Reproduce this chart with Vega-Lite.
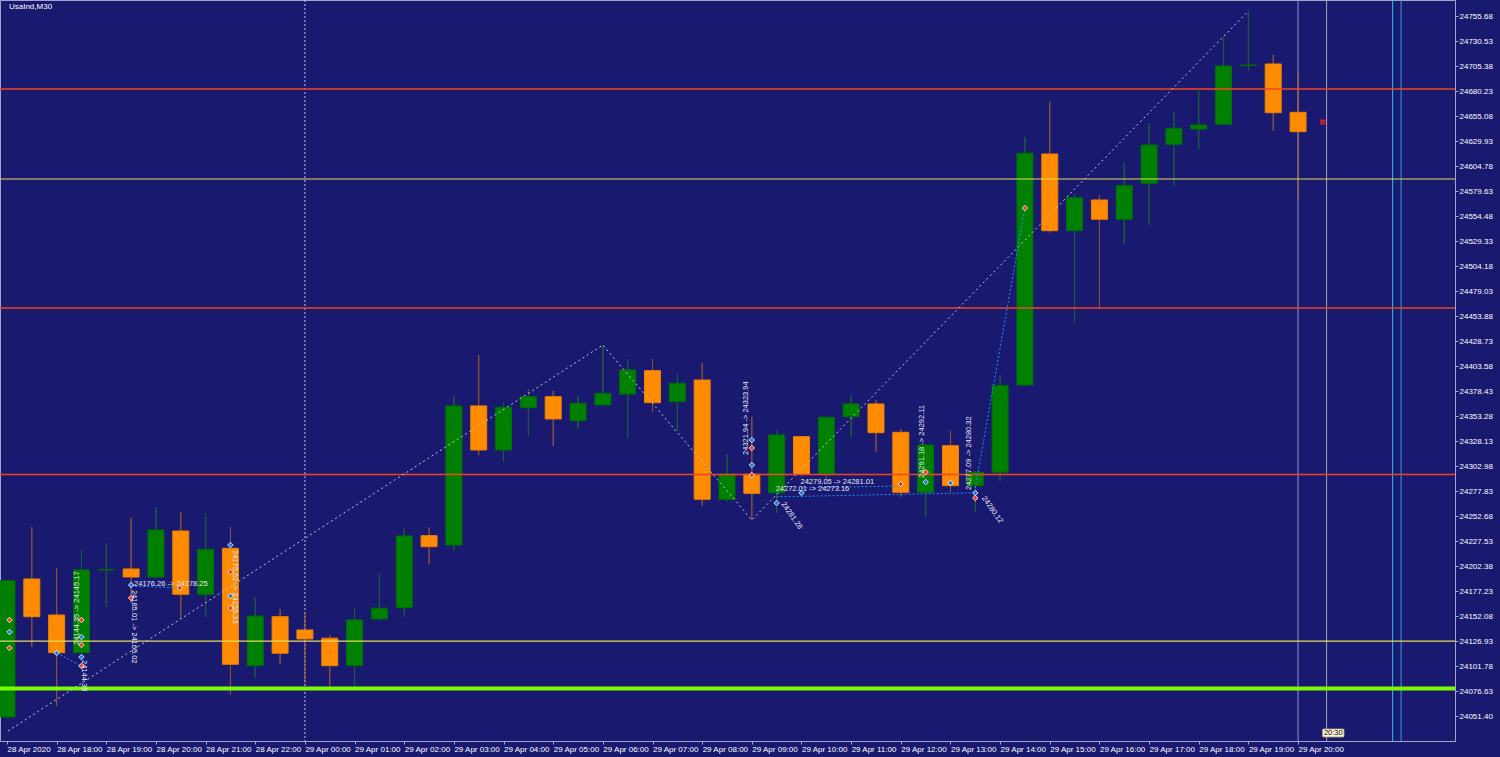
{
  "$schema": "https://vega.github.io/schema/vega-lite/v6.json",
  "width": 1455,
  "height": 741,
  "padding": {"left": 0, "top": 0, "right": 45, "bottom": 16},
  "autosize": {"type": "none"},
  "background": "#191970",
  "config": {
    "view": {"stroke": "#a4a4c8", "strokeWidth": 1},
    "text": {"font": "Liberation Sans"}
  },
  "datasets": {
    "candles": [
      {"i":0,"o":24050.5,"h":24188.3,"l":24049.5,"c":24187.6},
      {"i":1,"o":24189.3,"h":24241.6,"l":24120.9,"c":24151.4},
      {"i":2,"o":24153.1,"h":24200.4,"l":24061.6,"c":24115.2},
      {"i":3,"o":24115.2,"h":24218.5,"l":24114.9,"c":24198.4},
      {"i":4,"o":24198.4,"h":24225.5,"l":24161.2,"c":24198.9},
      {"i":5,"o":24199.4,"h":24250.7,"l":24165.2,"c":24191.3},
      {"i":6,"o":24191.3,"h":24261.8,"l":24190.3,"c":24238.6},
      {"i":7,"o":24237.6,"h":24256.7,"l":24150.4,"c":24173.9},
      {"i":8,"o":24173.9,"h":24255.7,"l":24151.4,"c":24219.2},
      {"i":9,"o":24220.2,"h":24241.6,"l":24072.6,"c":24103.5},
      {"i":10,"o":24102.1,"h":24170.5,"l":24090.0,"c":24152.1},
      {"i":11,"o":24151.4,"h":24159.1,"l":24103.8,"c":24114.6},
      {"i":12,"o":24138.0,"h":24156.4,"l":24084.7,"c":24129.0},
      {"i":13,"o":24129.7,"h":24133.0,"l":24079.7,"c":24102.1},
      {"i":14,"o":24102.1,"h":24159.1,"l":24081.0,"c":24148.1},
      {"i":15,"o":24149.1,"h":24195.1,"l":24147.1,"c":24159.9},
      {"i":16,"o":24160.5,"h":24240.9,"l":24151.4,"c":24232.6},
      {"i":17,"o":24232.9,"h":24241.3,"l":24204.4,"c":24221.8},
      {"i":18,"o":24223.5,"h":24372.7,"l":24217.8,"c":24363.4},
      {"i":19,"o":24363.4,"h":24414.7,"l":24314.1,"c":24319.1},
      {"i":20,"o":24319.1,"h":24366.7,"l":24307.3,"c":24362.1},
      {"i":21,"o":24361.7,"h":24380.2,"l":24332.5,"c":24372.7},
      {"i":22,"o":24372.7,"h":24378.5,"l":24323.1,"c":24350.3},
      {"i":23,"o":24348.6,"h":24373.4,"l":24340.2,"c":24366.1},
      {"i":24,"o":24364.4,"h":24424.7,"l":24363.9,"c":24376.1},
      {"i":25,"o":24375.4,"h":24410.6,"l":24331.5,"c":24399.6},
      {"i":26,"o":24398.9,"h":24410.6,"l":24357.6,"c":24366.7},
      {"i":27,"o":24367.7,"h":24395.6,"l":24338.5,"c":24386.2},
      {"i":28,"o":24389.5,"h":24406.3,"l":24263.1,"c":24269.5},
      {"i":29,"o":24269.5,"h":24314.8,"l":24267.1,"c":24294.7},
      {"i":30,"o":24294.7,"h":24352.6,"l":24248.7,"c":24275.5},
      {"i":31,"o":24276.1,"h":24338.5,"l":24255.7,"c":24334.2},
      {"i":32,"o":24332.5,"h":24333.2,"l":24292.2,"c":24294.7},
      {"i":33,"o":24294.7,"h":24352.3,"l":24288.9,"c":24352.0},
      {"i":34,"o":24352.6,"h":24374.4,"l":24331.5,"c":24365.4},
      {"i":35,"o":24365.4,"h":24369.4,"l":24317.4,"c":24336.5},
      {"i":36,"o":24336.9,"h":24340.2,"l":24272.1,"c":24276.5},
      {"i":37,"o":24276.5,"h":24325.1,"l":24252.0,"c":24324.1},
      {"i":38,"o":24323.4,"h":24338.5,"l":24276.5,"c":24283.2},
      {"i":39,"o":24283.2,"h":24298.0,"l":24257.0,"c":24296.7},
      {"i":40,"o":24296.7,"h":24394.2,"l":24287.9,"c":24383.8},
      {"i":41,"o":24384.5,"h":24633.7,"l":24383.5,"c":24617.6},
      {"i":42,"o":24616.9,"h":24669.5,"l":24537.7,"c":24539.7},
      {"i":43,"o":24539.7,"h":24576.3,"l":24447.6,"c":24572.9},
      {"i":44,"o":24570.6,"h":24575.6,"l":24461.6,"c":24551.2},
      {"i":45,"o":24551.2,"h":24608.5,"l":24526.0,"c":24585.0},
      {"i":46,"o":24587.4,"h":24647.8,"l":24545.4,"c":24625.9},
      {"i":47,"o":24626.6,"h":24659.1,"l":24585.0,"c":24642.7},
      {"i":48,"o":24642.0,"h":24680.6,"l":24620.9,"c":24646.0},
      {"i":49,"o":24646.8,"h":24734.9,"l":24646.5,"c":24705.4},
      {"i":50,"o":24705.9,"h":24760.7,"l":24700.7,"c":24706.4},
      {"i":51,"o":24707.4,"h":24716.5,"l":24640.3,"c":24658.4},
      {"i":52,"o":24658.8,"h":24698.7,"l":24571.3,"c":24639.3}
    ],
    "levels": [
      {"p":24682.3,"kind":"resistance"},
      {"p":24591.7,"kind":"pivot"},
      {"p":24462.0,"kind":"resistance"},
      {"p":24294.5,"kind":"resistance"},
      {"p":24126.9,"kind":"pivot"},
      {"p":24079.2,"kind":"support"}
    ],
    "vlines": [
      {"i":12,"kind":"day"},
      {"i":52,"kind":"now"},
      {"i":53.15,"kind":"time"},
      {"i":55.81,"kind":"cyan"},
      {"i":56.15,"kind":"blue"}
    ],
    "zigzag": [
      {"i":0.04,"p":24036.4},
      {"i":24,"p":24424.7},
      {"i":30,"p":24248.7},
      {"i":50,"p":24760.7}
    ],
    "trades": [
      {"i":5.0,"p":24182.2,"i2":6.96,"p2":24180.2},
      {"i":2.0,"p":24114.9,"i2":3.0,"p2":24101.8},
      {"i":39.0,"p":24280.9,"i2":41.0,"p2":24562.5},
      {"i":32.0,"p":24280.9,"i2":36.0,"p2":24282.9},
      {"i":31.0,"p":24272.0,"i2":39.0,"p2":24276.0}
    ],
    "markers": [
      {"i":0.1,"p":24136.0,"side":"buy"},
      {"i":2,"p":24114.9,"side":"buy"},
      {"i":3,"p":24130.9,"side":"buy"},
      {"i":3,"p":24110.8,"side":"buy"},
      {"i":5,"p":24183.3,"side":"buy"},
      {"i":9,"p":24223.5,"side":"buy"},
      {"i":9,"p":24172.2,"side":"buy"},
      {"i":30,"p":24329.1,"side":"buy"},
      {"i":30,"p":24304.0,"side":"buy"},
      {"i":31,"p":24265.8,"side":"buy"},
      {"i":32,"p":24275.8,"side":"buy"},
      {"i":37,"p":24286.9,"side":"buy"},
      {"i":38,"p":24285.9,"side":"buy"},
      {"i":39,"p":24275.8,"side":"buy"},
      {"i":0.1,"p":24148.1,"side":"sell"},
      {"i":0.1,"p":24119.9,"side":"sell"},
      {"i":3,"p":24148.1,"side":"sell"},
      {"i":3,"p":24122.9,"side":"sell"},
      {"i":3,"p":24101.8,"side":"sell"},
      {"i":5,"p":24170.2,"side":"sell"},
      {"i":6.96,"p":24180.2,"side":"sell"},
      {"i":9,"p":24196.4,"side":"sell"},
      {"i":9,"p":24160.1,"side":"sell"},
      {"i":30,"p":24321.1,"side":"sell"},
      {"i":30,"p":24293.9,"side":"sell"},
      {"i":36,"p":24284.9,"side":"sell"},
      {"i":37,"p":24296.9,"side":"sell"},
      {"i":39,"p":24270.8,"side":"sell"},
      {"i":41,"p":24562.5,"side":"sell"}
    ],
    "textH": [
      {"i":5.12,"p":24184.3,"text":"24176.26 -> 24178.25"},
      {"i":31.96,"p":24286.9,"text":"24279.05 -> 24281.01"},
      {"i":30.96,"p":24279.9,"text":"24272.01 -> 24273.16"}
    ],
    "textUp": [
      {"i":29.76,"p":24314.1,"text":"24321.94 -> 24323.94"},
      {"i":36.84,"p":24290.9,"text":"24291.18 -> 24292.11"},
      {"i":38.76,"p":24278.9,"text":"24277.09 -> 24280.32"},
      {"i":2.8,"p":24122.9,"text":"24144.35 -> 24145.17"}
    ],
    "textDown": [
      {"i":5.12,"p":24178.3,"text":"24185.01 -> 24165.02"},
      {"i":9.2,"p":24218.5,"text":"24175.52 -> 24155.33"},
      {"i":3.12,"p":24107.8,"text":"24144.35"}
    ],
    "textDiag": [
      {"i":31.24,"p":24265.8,"text":"24281.28"},
      {"i":39.32,"p":24271.8,"text":"24280.12"}
    ],
    "title": [{"i":0.08,"p":24764.7,"text":"UsaInd,M30"}],
    "close": [{"i":53,"p":24649.1}],
    "timebox": [{"i":52.99,"i2":53.85,"p":24038.4,"p2":24030.4,"im":53.42,"pm":24034.4,"text":"20:30"}]
  },
  "layer": [
    {
      "data": {"name": "candles"},
      "mark": {"type": "rule", "strokeWidth": 1},
      "encoding": {
        "x": {
          "field": "i", "type": "quantitative",
          "scale": {"domain": [-0.08, 58.12], "nice": false, "zero": false},
          "axis": {
            "values": [0,2,4,6,8,10,12,14,16,18,20,22,24,26,28,30,32,34,36,38,40,42,44,46,48,50,52],
            "tickCount": 60,
            "labelExpr": "datum.value == 0 ? '28 Apr 2020' : datum.value < 12 ? '28 Apr ' + (17 + datum.value / 2) + ':00' : '29 Apr ' + (datum.value < 32 ? '0' : '') + ((datum.value - 12) / 2) + ':00'",
            "labelAlign": "left", "labelBaseline": "top", "labelPadding": 1, "labelDx": 1,
            "tickSize": 3, "tickColor": "#a4a4c8", "domainColor": "#a4a4c8",
            "labelColor": "#ffffff", "labelFont": "Liberation Sans", "labelFontSize": 8,
            "labelOverlap": false, "labelFlush": false, "labelBound": false, "grid": false, "title": null
          }
        },
        "y": {
          "field": "l", "type": "quantitative",
          "scale": {"domain": [24026.33, 24771.78], "nice": false, "zero": false},
          "axis": {
            "orient": "right",
            "values": [24755.68,24730.53,24705.38,24680.23,24655.08,24629.93,24604.78,24579.63,24554.48,24529.33,24504.18,24479.03,24453.88,24428.73,24403.58,24378.43,24353.28,24328.13,24302.98,24277.83,24252.68,24227.53,24202.38,24177.23,24152.08,24126.93,24101.78,24076.63,24051.40],
            "tickCount": 60,
            "format": ".2f",
            "labelAlign": "left", "labelBaseline": "middle", "labelPadding": 1,
            "tickSize": 3, "tickColor": "#a4a4c8", "domainColor": "#a4a4c8",
            "labelColor": "#ffffff", "labelFont": "Liberation Sans", "labelFontSize": 8,
            "labelOverlap": false, "labelFlush": false, "labelBound": false, "grid": false, "title": null
          }
        },
        "y2": {"field": "h"},
        "color": {"condition": {"test": "datum.c >= datum.o", "value": "#1e5c3c"}, "value": "#8b5238"}
      }
    },
    {
      "data": {"name": "vlines"},
      "transform": [{"filter": "datum.kind == 'day'"}],
      "mark": {"type": "rule", "color": "#c4c4dc", "strokeWidth": 1, "strokeDash": [2, 2]},
      "encoding": {"x": {"field": "i", "type": "quantitative"}}
    },
    {
      "data": {"name": "vlines"},
      "transform": [{"filter": "datum.kind == 'now'"}],
      "mark": {"type": "rule", "color": "#9696d2", "strokeWidth": 1},
      "encoding": {"x": {"field": "i", "type": "quantitative"}}
    },
    {
      "data": {"name": "vlines"},
      "transform": [{"filter": "datum.kind == 'time'"}],
      "mark": {"type": "rule", "color": "#a4a4b4", "strokeWidth": 1},
      "encoding": {"x": {"field": "i", "type": "quantitative"}}
    },
    {
      "data": {"name": "vlines"},
      "transform": [{"filter": "datum.kind == 'cyan'"}],
      "mark": {"type": "rule", "color": "#2cc4ec", "strokeWidth": 1},
      "encoding": {"x": {"field": "i", "type": "quantitative"}}
    },
    {
      "data": {"name": "vlines"},
      "transform": [{"filter": "datum.kind == 'blue'"}],
      "mark": {"type": "rule", "color": "#3c9ad8", "strokeWidth": 1},
      "encoding": {"x": {"field": "i", "type": "quantitative"}}
    },
    {
      "data": {"name": "candles"},
      "mark": {"type": "rule", "strokeWidth": 1},
      "encoding": {
        "x": {"field": "i", "type": "quantitative"},
        "y": {"field": "l", "type": "quantitative"},
        "y2": {"field": "h"},
        "color": {"condition": {"test": "datum.c >= datum.o", "value": "#1e5c3c"}, "value": "#8b5238"}
      }
    },
    {
      "data": {"name": "candles"},
      "mark": {"type": "bar", "size": 16, "strokeWidth": 1},
      "encoding": {
        "x": {"field": "i", "type": "quantitative"},
        "y": {"field": "o", "type": "quantitative"},
        "y2": {"field": "c"},
        "color": {"condition": {"test": "datum.c >= datum.o", "value": "#008000"}, "value": "#ff8c00"},
        "stroke": {"condition": {"test": "datum.c >= datum.o", "value": "#007000"}, "value": "#f08000"}
      }
    },
    {
      "data": {"name": "levels"},
      "transform": [{"filter": "datum.kind == 'resistance'"}],
      "mark": {"type": "rule", "color": "#f0461e", "strokeWidth": 1.6},
      "encoding": {"y": {"field": "p", "type": "quantitative"}}
    },
    {
      "data": {"name": "levels"},
      "transform": [{"filter": "datum.kind == 'pivot'"}],
      "mark": {"type": "rule", "color": "#e8dc58", "strokeWidth": 1.2},
      "encoding": {"y": {"field": "p", "type": "quantitative"}}
    },
    {
      "data": {"name": "levels"},
      "transform": [{"filter": "datum.kind == 'support'"}],
      "mark": {"type": "rule", "color": "#7cfc00", "strokeWidth": 4},
      "encoding": {"y": {"field": "p", "type": "quantitative"}}
    },
    {
      "data": {"name": "zigzag"},
      "mark": {"type": "line", "color": "#c8c8e0", "strokeWidth": 1, "strokeDash": [2, 3]},
      "encoding": {
        "x": {"field": "i", "type": "quantitative"},
        "y": {"field": "p", "type": "quantitative"}
      }
    },
    {
      "data": {"name": "trades"},
      "mark": {"type": "rule", "color": "#1e90ff", "strokeWidth": 1, "strokeDash": [2, 2]},
      "encoding": {
        "x": {"field": "i", "type": "quantitative"},
        "y": {"field": "p", "type": "quantitative"},
        "x2": {"field": "i2"},
        "y2": {"field": "p2"}
      }
    },
    {
      "data": {"name": "markers"},
      "mark": {"type": "point", "shape": "diamond", "filled": true, "size": 30, "stroke": "#ffffff", "strokeWidth": 0.8, "opacity": 1},
      "encoding": {
        "x": {"field": "i", "type": "quantitative"},
        "y": {"field": "p", "type": "quantitative"},
        "fill": {"field": "side", "type": "nominal", "scale": {"domain": ["buy", "sell"], "range": ["#1e78e6", "#f03c28"]}, "legend": null}
      }
    },
    {
      "data": {"name": "textH"},
      "mark": {"type": "text", "align": "left", "baseline": "middle", "fontSize": 7.5, "color": "#e8e8f4"},
      "encoding": {
        "x": {"field": "i", "type": "quantitative"},
        "y": {"field": "p", "type": "quantitative"},
        "text": {"field": "text"}
      }
    },
    {
      "data": {"name": "textUp"},
      "mark": {"type": "text", "align": "left", "baseline": "middle", "angle": 270, "fontSize": 7.5, "color": "#e8e8f4"},
      "encoding": {
        "x": {"field": "i", "type": "quantitative"},
        "y": {"field": "p", "type": "quantitative"},
        "text": {"field": "text"}
      }
    },
    {
      "data": {"name": "textDown"},
      "mark": {"type": "text", "align": "left", "baseline": "middle", "angle": 90, "fontSize": 7.5, "color": "#e8e8f4"},
      "encoding": {
        "x": {"field": "i", "type": "quantitative"},
        "y": {"field": "p", "type": "quantitative"},
        "text": {"field": "text"}
      }
    },
    {
      "data": {"name": "textDiag"},
      "mark": {"type": "text", "align": "left", "baseline": "middle", "angle": 55, "fontSize": 7.5, "color": "#e8e8f4"},
      "encoding": {
        "x": {"field": "i", "type": "quantitative"},
        "y": {"field": "p", "type": "quantitative"},
        "text": {"field": "text"}
      }
    },
    {
      "data": {"name": "close"},
      "mark": {"type": "point", "shape": "cross", "angle": 45, "filled": true, "size": 45, "color": "#ff2020"},
      "encoding": {
        "x": {"field": "i", "type": "quantitative"},
        "y": {"field": "p", "type": "quantitative"}
      }
    },
    {
      "data": {"name": "timebox"},
      "mark": {"type": "rect", "fill": "#fff6d8", "stroke": "#b8a880", "strokeWidth": 0.8, "cornerRadius": 1},
      "encoding": {
        "x": {"field": "i", "type": "quantitative"},
        "x2": {"field": "i2"},
        "y": {"field": "p", "type": "quantitative"},
        "y2": {"field": "p2"}
      }
    },
    {
      "data": {"name": "timebox"},
      "mark": {"type": "text", "align": "center", "baseline": "middle", "fontSize": 7.5, "color": "#000000"},
      "encoding": {
        "x": {"field": "im", "type": "quantitative"},
        "y": {"field": "pm", "type": "quantitative"},
        "text": {"field": "text"}
      }
    },
    {
      "data": {"name": "title"},
      "mark": {"type": "text", "align": "left", "baseline": "middle", "fontSize": 8, "color": "#ffffff"},
      "encoding": {
        "x": {"field": "i", "type": "quantitative"},
        "y": {"field": "p", "type": "quantitative"},
        "text": {"field": "text"}
      }
    }
  ]
}
